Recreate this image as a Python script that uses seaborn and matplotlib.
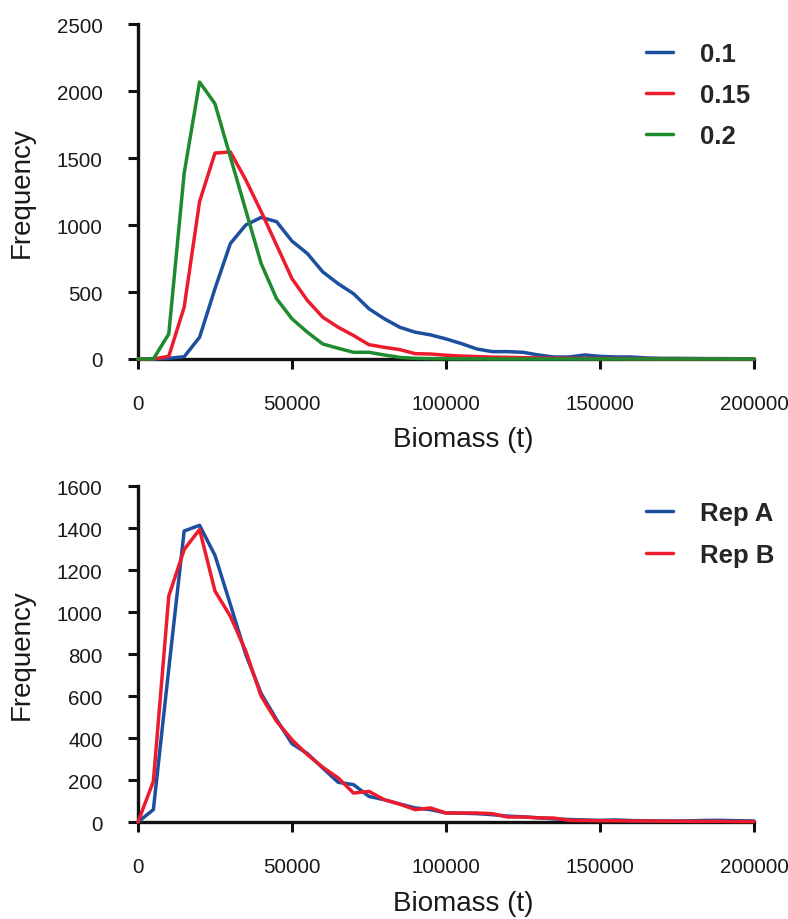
import matplotlib
matplotlib.use("Agg")
import matplotlib.pyplot as plt
import seaborn as sns
import numpy as np
import pandas as pd

# biomass bins (t), shared by both panels
biomass = list(range(0, 200001, 5000))

# top panel: frequency by parameter value
top_labels = ["0.1", "0.15", "0.2"]
freq_01 = [0, 0, 5, 17, 162, 525, 862, 1000, 1057, 1025,
           880, 787, 650, 562, 487, 375, 300, 237, 200, 180,
           150, 115, 75, 55, 55, 50, 30, 15, 15, 30,
           20, 15, 15, 8, 5, 5, 4, 3, 3, 2, 2]
freq_015 = [0, 0, 20, 387, 1175, 1537, 1545, 1337, 1100, 850,
            600, 437, 312, 237, 175, 107, 87, 70, 40, 37,
            28, 22, 18, 14, 12, 10, 8, 6, 5, 4,
            3, 3, 2, 2, 1, 1, 1, 1, 1, 0, 0]
freq_02 = [0, 0, 187, 1387, 2067, 1905, 1507, 1110, 712, 450,
           300, 200, 112, 80, 50, 50, 30, 12, 5, 3,
           2, 1, 1, 0, 0, 0, 0, 0, 0, 0,
           0, 0, 0, 0, 0, 0, 0, 0, 0, 0, 0]

# bottom panel: two replicates
bottom_labels = ["Rep A", "Rep B"]
rep_a = [0, 59, 730, 1386, 1413, 1270, 1036, 798, 612, 488,
         373, 326, 257, 189, 178, 122, 106, 86, 67, 59,
         43, 42, 40, 35, 28, 25, 20, 15, 12, 10,
         8, 10, 7, 6, 5, 5, 6, 8, 8, 6, 5]
rep_b = [0, 194, 1076, 1298, 1393, 1100, 980, 814, 599, 480,
         392, 321, 261, 210, 138, 146, 106, 85, 59, 67,
         43, 43, 43, 40, 24, 24, 20, 19, 8, 7,
         6, 6, 5, 5, 4, 4, 3, 3, 3, 2, 2]

top_colors = ["#1d4f9f", "#ec1c2e", "#1e8c2e"]
bottom_colors = ["#1d4f9f", "#ec1c2e"]


def long_df(labels, series):
    frames = [pd.DataFrame({"biomass": biomass, "freq": s, "run": lab})
              for lab, s in zip(labels, series)]
    return pd.concat(frames, ignore_index=True)


sns.set_style("ticks")
plt.rcParams["font.family"] = ["Liberation Sans", "DejaVu Sans"]

fig = plt.figure(figsize=(7.88, 9.2), dpi=100)
ax1 = fig.add_axes([0.1751, 0.6087, 0.7817, 0.3641])
ax2 = fig.add_axes([0.1751, 0.1054, 0.7817, 0.3652])

panels = [
    (ax1, long_df(top_labels, [freq_01, freq_015, freq_02]), top_labels, top_colors,
     2500, 500, 0.9536, 18, -0.20, 0.66),
    (ax2, long_df(bottom_labels, [rep_a, rep_b]), bottom_labels, bottom_colors,
     1600, 200, 0.4542, 17.5, -0.203, 0.70),
]

for ax, df, labels, colors, ymax, ystep, leg_y, xpad, xlab_y, spacing in panels:
    sns.lineplot(data=df, x="biomass", y="freq", hue="run", hue_order=labels,
                 palette=colors, linewidth=2.5, ax=ax, clip_on=False, zorder=3)
    ax.set_xlim(0, 200000)
    ax.set_ylim(0, ymax)
    ax.set_xticks(np.arange(0, 200001, 50000))
    ax.set_yticks(np.arange(0, ymax + 1, ystep))
    ax.ticklabel_format(style="plain", useOffset=False)
    sns.despine(ax=ax)
    for side in ["left", "bottom"]:
        ax.spines[side].set_linewidth(2.4)
        ax.spines[side].set_color("#111111")
    ax.tick_params(axis="both", direction="out", length=7.5, width=2.2,
                   color="#111111", labelsize=14.8, labelcolor="#1a1a1a")
    ax.tick_params(axis="x", pad=xpad)
    ax.tick_params(axis="y", pad=18)
    ax.set_xlabel("Biomass (t)", fontsize=20, color="#1a1a1a")
    ax.set_ylabel("Frequency", fontsize=20, color="#1a1a1a")
    ax.xaxis.set_label_coords(0.528, xlab_y)
    ax.yaxis.set_label_coords(-0.168, 0.5)

    handles, labs = ax.get_legend_handles_labels()
    ax.legend(handles, labs, loc="upper left", bbox_to_anchor=(0.8198, leg_y),
              bbox_transform=fig.transFigure, frameon=False,
              prop={"weight": "bold", "size": 18.5}, handlelength=1.05,
              handletextpad=1.05, labelspacing=spacing, borderpad=0, borderaxespad=0)

fig.savefig("out.png", dpi=100, facecolor="white")
plt.close()
